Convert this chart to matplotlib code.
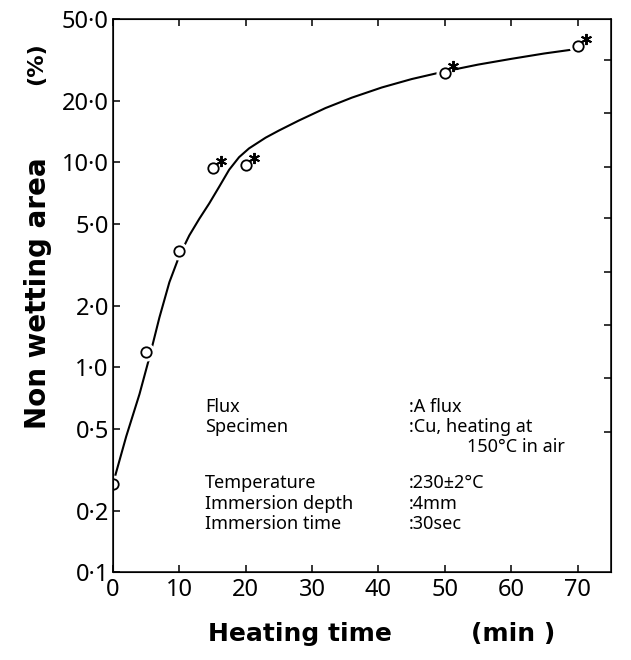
import matplotlib
matplotlib.use("Agg")
import matplotlib.pyplot as plt
from matplotlib.ticker import FixedLocator, NullLocator
from matplotlib.transforms import ScaledTranslation

plt.rcParams["font.family"] = ["Noto Sans", "DejaVu Sans"]

# measured points (heating time in min, non wetting area in %)
time_pts = [0, 5, 10, 15, 20, 50, 70]
area_pts = [0.27, 1.19, 3.7, 9.4, 9.7, 27.3, 36.9]
starred = [False, False, False, True, True, True, True]

# hand drawn fit curve
curve_t = [0, 2, 4, 5.5, 7, 8.5, 10, 11.5, 13, 14.5, 16, 17.5, 19, 20.5,
           23, 25, 28, 32, 36, 40.5, 45, 50, 55, 60, 65, 70]
curve_a = [0.27, 0.46, 0.74, 1.12, 1.75, 2.6, 3.5, 4.4, 5.3, 6.3, 7.6, 9.2,
           10.6, 11.7, 13.2, 14.3, 16.0, 18.4, 20.7, 23.2, 25.5, 27.8, 30.0,
           32.0, 34.0, 35.8]

y_ticks = [0.1, 0.2, 0.5, 1.0, 2.0, 5.0, 10.0, 20.0, 50.0]
y_labels = ["0·1", "0·2", "0·5", "1·0", "2·0", "5·0", "10·0", "20·0", "50·0"]
x_ticks = [0, 10, 20, 30, 40, 50, 60, 70]

cond_names = ["Flux", "Specimen", "", "Temperature", "Immersion depth",
              "Immersion time"]
cond_values = [":A flux", ":Cu, heating at", "", ":230±2°C", ":4mm", ":30sec"]

fig = plt.figure(figsize=(6.31, 6.6), dpi=100)
ax = fig.add_axes([0.179, 0.133, 0.789, 0.838])

ax.plot(curve_t, curve_a, color="black", lw=1.5, zorder=1)
# white discs so the line stops short of each circle
ax.plot(time_pts, area_pts, ls="none", marker="o", ms=12,
        mfc="white", mec="white", zorder=2)
ax.plot(time_pts, area_pts, ls="none", marker="o", ms=7.5,
        mfc="white", mec="black", mew=1.3, zorder=3)

# asterisks sit just up and right of the marked circles
star_shift = ax.transData + ScaledTranslation(6 / 72, 5 / 72, fig.dpi_scale_trans)
star_t = [t for t, s in zip(time_pts, starred) if s]
star_a = [a for a, s in zip(area_pts, starred) if s]
ax.plot(star_t, star_a, ls="none", marker=(6, 2, 0), ms=8, mew=1.4,
        color="black", transform=star_shift, zorder=3)

ax.set_yscale("log")
ax.set_ylim(0.1, 50)
ax.set_xlim(0, 75)
ax.yaxis.set_major_locator(FixedLocator(y_ticks))
ax.yaxis.set_minor_locator(NullLocator())
ax.set_yticklabels(y_labels)
ax.set_xticks(x_ticks)

for sp in ax.spines.values():
    sp.set_linewidth(1.1)
ax.tick_params(axis="both", direction="in", length=5, width=1.1,
               labelsize=17, top=True)
ax.tick_params(axis="y", pad=3)
ax.tick_params(axis="x", pad=4)

# plain evenly spaced ticks on the right frame
ax_r = ax.twinx()
ax_r.set_ylim(0, 1)
ax_r.set_yticks([0.253, 0.351, 0.447, 0.542, 0.640, 0.732, 0.830, 0.926])
ax_r.tick_params(direction="in", length=5, width=1.1, labelright=False)

# condition block
y0 = 0.383
dy = 0.0305
for i, (n, v) in enumerate(zip(cond_names, cond_values)):
    yy = y0 - i * dy
    if i >= 3:
        yy -= 0.024
    fig.text(0.325, yy, n, fontsize=13, va="center", ha="left")
    fig.text(0.648, yy, v, fontsize=13, va="center", ha="left")
fig.text(0.74, y0 - 2 * dy, "150°C in air", fontsize=13, va="center",
         ha="left")

# axis titles
fig.text(0.060, 0.556, "Non wetting area", rotation=90, fontsize=20,
         fontweight="bold", family="DejaVu Sans", ha="center", va="center")
fig.text(0.058, 0.903, "(%)", rotation=90, fontsize=16,
         fontweight="bold", family="DejaVu Sans", ha="center", va="center")
fig.text(0.475, 0.040, "Heating time", fontsize=18, fontweight="bold",
         family="DejaVu Sans", ha="center", va="center")
fig.text(0.813, 0.040, "(min )", fontsize=18, fontweight="bold",
         family="DejaVu Sans", ha="center", va="center")

fig.savefig("out.png", dpi=100)
